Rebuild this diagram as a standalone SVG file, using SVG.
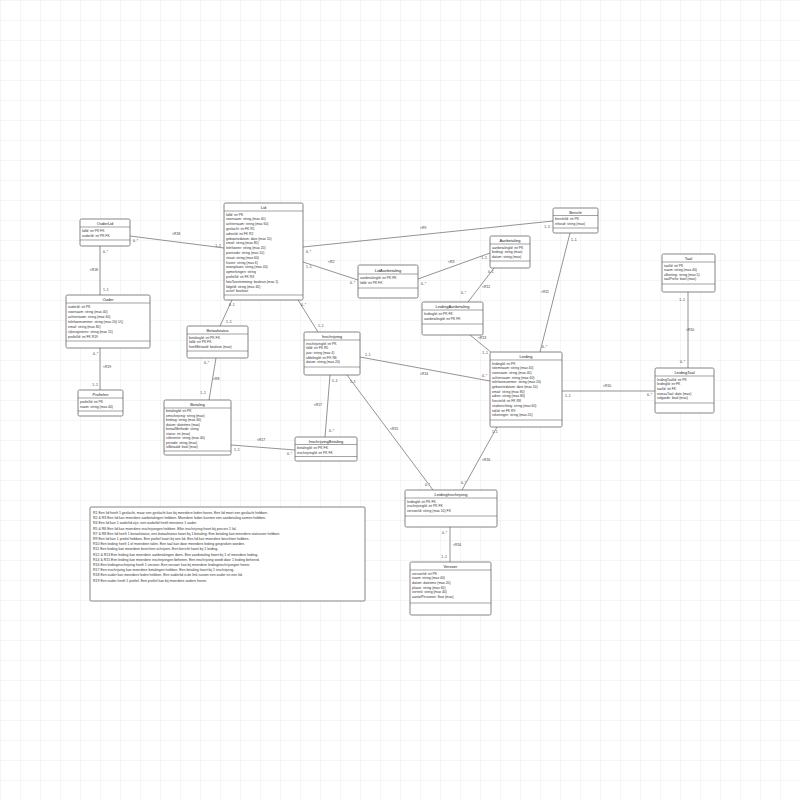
<svg xmlns="http://www.w3.org/2000/svg" width="800" height="800" viewBox="0 0 800 800">
<defs>
<pattern id="grid" width="20" height="20" patternUnits="userSpaceOnUse"><path d="M20 0H0V20" fill="none" stroke="#e6e6e6" stroke-width="0.8"/></pattern>
<style>
.box{fill:#fff;stroke:#666;stroke-width:0.8}
.div{stroke:#666;stroke-width:0.6}
.t{font-family:"Liberation Sans",Arial,sans-serif;font-size:4px;fill:#222;text-anchor:middle}
.a{font-family:"Liberation Sans",Arial,sans-serif;font-size:3.4px;fill:#333}
.c{stroke:#666;stroke-width:0.7;fill:none}
.l{font-family:"Liberation Sans",Arial,sans-serif;font-size:3.4px;fill:#333}
.e{text-anchor:end}
.g{font-family:"Liberation Sans",Arial,sans-serif;font-size:3.5px;fill:#333}
</style>
</defs>
<rect width="800" height="800" fill="#fff"/>
<rect width="800" height="800" fill="url(#grid)"/>

<g id="connectors">
<line class="c" x1="130" y1="236" x2="224" y2="248"/>
<text class="l" x="133" y="242">0..*</text><text class="l" x="172" y="235">&lt;R18</text><text class="l e" x="221" y="247">1..1</text>
<line class="c" x1="100" y1="246" x2="100" y2="295"/>
<text class="l" x="103" y="253">0..*</text><text class="l e" x="98" y="271">&lt;R18</text><text class="l" x="103" y="291">1..1</text>
<line class="c" x1="100" y1="348" x2="100" y2="390"/>
<text class="l e" x="98" y="355">0..*</text><text class="l" x="103" y="368">&lt;R19</text><text class="l e" x="98" y="386">1..1</text>
<line class="c" x1="303" y1="247" x2="553" y2="221"/>
<text class="l" x="306" y="253">0..*</text><text class="l" x="420" y="229">&lt;R9</text><text class="l e" x="550" y="228">1..1</text>
<line class="c" x1="303" y1="262" x2="358" y2="280"/>
<text class="l" x="306" y="268">1..1</text><text class="l" x="328" y="263">&lt;R2</text><text class="l e" x="355" y="284">0..*</text>
<line class="c" x1="418" y1="279" x2="490" y2="253"/>
<text class="l" x="421" y="285">0..*</text><text class="l" x="448" y="263">&lt;R3</text><text class="l e" x="487" y="259">1..1</text>
<line class="c" x1="494" y1="268" x2="468" y2="302"/>
<text class="l" x="488" y="273">0..1</text><text class="l" x="482" y="288">&lt;R12</text><text class="l e" x="466" y="294">0..*</text>
<line class="c" x1="470" y1="335" x2="492" y2="353"/>
<text class="l" x="478" y="339">&lt;R13</text><text class="l e" x="488" y="354">1..1</text>
<line class="c" x1="570" y1="233" x2="540" y2="352"/>
<text class="l" x="571" y="241">1..1</text><text class="l e" x="549" y="293">&lt;R11</text><text class="l" x="542" y="348">0..*</text>
<line class="c" x1="562" y1="391" x2="655" y2="391"/>
<text class="l" x="565" y="397">1..1</text><text class="l" x="603" y="387">&lt;R10</text><text class="l e" x="652" y="396">0..*</text>
<line class="c" x1="688" y1="292" x2="688" y2="368"/>
<text class="l e" x="685" y="301">1..1</text><text class="l" x="686" y="331">&lt;R10</text><text class="l e" x="685" y="363">0..*</text>
<line class="c" x1="298" y1="300" x2="318" y2="332"/>
<text class="l" x="301" y="306">0..*</text><text class="l" x="318" y="327">1..1</text>
<line class="c" x1="232" y1="300" x2="220" y2="326"/>
<text class="l" x="229" y="306">0..1</text><text class="l" x="226" y="323">1..1</text>
<line class="c" x1="216" y1="358" x2="209" y2="400"/>
<text class="l e" x="209" y="364">0..*</text><text class="l" x="213" y="380">&lt;R8</text><text class="l e" x="206" y="394">1..1</text>
<line class="c" x1="231" y1="445" x2="295" y2="450"/>
<text class="l" x="234" y="451">1..1</text><text class="l" x="257" y="441">&lt;R17</text><text class="l e" x="292" y="455">0..*</text>
<line class="c" x1="330" y1="375" x2="325" y2="437"/>
<text class="l" x="332" y="382">1..1</text><text class="l e" x="322" y="406">&lt;R17</text><text class="l" x="329" y="432">0..*</text>
<line class="c" x1="360" y1="357" x2="490" y2="381"/>
<text class="l" x="365" y="356">1..1</text><text class="l" x="420" y="375">&lt;R14</text><text class="l e" x="487" y="377">0..*</text>
<line class="c" x1="347" y1="375" x2="433" y2="490"/>
<text class="l" x="350" y="383">1..1</text><text class="l" x="390" y="430">&lt;R15</text><text class="l e" x="430" y="486">0..*</text>
<line class="c" x1="497" y1="427" x2="462" y2="490"/>
<text class="l" x="492" y="433">1..1</text><text class="l" x="482" y="461">&lt;R16</text><text class="l e" x="466" y="484">0..*</text>
<line class="c" x1="450" y1="527" x2="450" y2="562"/>
<text class="l e" x="447" y="534">0..*</text><text class="l" x="453" y="546">&lt;R16</text><text class="l e" x="447" y="558">1..1</text>
</g>

<g id="ouderlid">
<rect class="box" x="80" y="219" width="50" height="27" rx="1.5"/>
<line class="div" x1="80" y1="227" x2="130" y2="227"/><line class="div" x1="80" y1="240" x2="130" y2="240"/>
<text class="t" x="105" y="225">OuderLid</text>
<text class="a"><tspan x="82" y="232">lidId: int PK FK</tspan><tspan x="82" y="237">ouderId: int PK FK</tspan></text>
</g>

<g id="ouder">
<rect class="box" x="66" y="295" width="84" height="53" rx="1.5"/>
<line class="div" x1="66" y1="303" x2="150" y2="303"/><line class="div" x1="66" y1="341" x2="150" y2="341"/>
<text class="t" x="108" y="301">Ouder</text>
<text class="a"><tspan x="68" y="308">ouderId: int PK</tspan><tspan x="68" y="313">voornaam: string (max 40)</tspan><tspan x="68" y="318">achternaam: string (max 60)</tspan><tspan x="68" y="323">telefoonnummer: string (max 20) UQ</tspan><tspan x="68" y="328">email: string (max 80)</tspan><tspan x="68" y="333">rijksregisternr: string (max 15)</tspan><tspan x="68" y="338">profielId: int FK R19</tspan></text>
</g>

<g id="profielen">
<rect class="box" x="78" y="390" width="45" height="26" rx="1.5"/>
<line class="div" x1="78" y1="398" x2="123" y2="398"/><line class="div" x1="78" y1="411" x2="123" y2="411"/>
<text class="t" x="100.5" y="396">Profielen</text>
<text class="a"><tspan x="80" y="403">profielId: int PK</tspan><tspan x="80" y="408">naam: string (max 40)</tspan></text>
</g>

<g id="lid">
<rect class="box" x="224" y="203" width="79" height="97" rx="1.5"/>
<line class="div" x1="224" y1="211" x2="303" y2="211"/><line class="div" x1="224" y1="295" x2="303" y2="295"/>
<text class="t" x="263.5" y="209">Lid</text>
<text class="a"><tspan x="226" y="215.5">lidId: int PK</tspan><tspan x="226" dy="4.8">voornaam: string (max 40)</tspan><tspan x="226" dy="4.8">achternaam: string (max 60)</tspan><tspan x="226" dy="4.8">geslacht: int FK R1</tspan><tspan x="226" dy="4.8">adresId: int FK R2</tspan><tspan x="226" dy="4.8">geboortedatum: date (max 10)</tspan><tspan x="226" dy="4.8">email: string (max 80)</tspan><tspan x="226" dy="4.8">telefoonnr: string (max 20)</tspan><tspan x="226" dy="4.8">postcode: string (max 10)</tspan><tspan x="226" dy="4.8">straat: string (max 60)</tspan><tspan x="226" dy="4.8">huisnr: string (max 6)</tspan><tspan x="226" dy="4.8">woonplaats: string (max 40)</tspan><tspan x="226" dy="4.8">opmerkingen: string</tspan><tspan x="226" dy="4.8">profielId: int FK R3</tspan><tspan x="226" dy="4.8">fotoToestemming: boolean (max 1)</tspan><tspan x="226" dy="4.8">lidgeld: string (max 40)</tspan><tspan x="226" dy="4.8">actief: boolean</tspan></text>
</g>

<g id="bericht">
<rect class="box" x="553" y="208" width="45" height="25" rx="1.5"/>
<line class="div" x1="553" y1="215.5" x2="598" y2="215.5"/><line class="div" x1="553" y1="228" x2="598" y2="228"/>
<text class="t" x="575.5" y="213.5">Bericht</text>
<text class="a"><tspan x="555" y="220">berichtId: int PK</tspan><tspan x="555" y="225">inhoud: string (max)</tspan></text>
</g>

<g id="aanbetaling">
<rect class="box" x="490" y="236" width="40" height="32" rx="1.5"/>
<line class="div" x1="490" y1="244" x2="530" y2="244"/><line class="div" x1="490" y1="261" x2="530" y2="261"/>
<text class="t" x="510" y="242">Aanbetaling</text>
<text class="a"><tspan x="492" y="248.5">aanbetalingId: int PK</tspan><tspan x="492" y="253">bedrag: string (max)</tspan><tspan x="492" y="257.5">datum: string (max)</tspan></text>
</g>

<g id="lidaanbetaling">
<rect class="box" x="358" y="265" width="60" height="33" rx="1.5"/>
<line class="div" x1="358" y1="274" x2="418" y2="274"/><line class="div" x1="358" y1="288" x2="418" y2="288"/>
<text class="t" x="388" y="271.5">LidAanbetaling</text>
<text class="a"><tspan x="360" y="279">aanbetalingId: int PK FK</tspan><tspan x="360" y="284">lidId: int PK FK</tspan></text>
</g>

<g id="leidingaanbetaling">
<rect class="box" x="422" y="302" width="61" height="33" rx="1.5"/>
<line class="div" x1="422" y1="310" x2="483" y2="310"/><line class="div" x1="422" y1="324" x2="483" y2="324"/>
<text class="t" x="452.5" y="308">LeidingAanbetaling</text>
<text class="a"><tspan x="424" y="315">leidingId: int PK FK</tspan><tspan x="424" y="320">aanbetalingId: int PK FK</tspan></text>
</g>

<g id="taal">
<rect class="box" x="662" y="254" width="53" height="38" rx="1.5"/>
<line class="div" x1="662" y1="262" x2="715" y2="262"/><line class="div" x1="662" y1="284" x2="715" y2="284"/>
<text class="t" x="688.5" y="260">Taal</text>
<text class="a"><tspan x="664" y="266.5">taalId: int PK</tspan><tspan x="664" y="271">naam: string (max 40)</tspan><tspan x="664" y="275.5">afkorting: string (max 5)</tspan><tspan x="664" y="280">taalPrefix: bool (max)</tspan></text>
</g>

<g id="leidingtaal">
<rect class="box" x="655" y="368" width="59" height="45" rx="1.5"/>
<line class="div" x1="655" y1="376" x2="714" y2="376"/><line class="div" x1="655" y1="403" x2="714" y2="403"/>
<text class="t" x="684.5" y="374">LeidingTaal</text>
<text class="a"><tspan x="657" y="380.5">leidingTaalId: int PK</tspan><tspan x="657" dy="4.7">leidingId: int FK</tspan><tspan x="657" dy="4.7">taalId: int FK</tspan><tspan x="657" dy="4.7">niveauTaal: date (max)</tspan><tspan x="657" dy="4.7">volgorde: bool (max)</tspan></text>
</g>

<g id="inschrijving">
<rect class="box" x="304" y="332" width="56" height="43" rx="1.5"/>
<line class="div" x1="304" y1="340" x2="360" y2="340"/><line class="div" x1="304" y1="367" x2="360" y2="367"/>
<text class="t" x="332" y="338">Inschrijving</text>
<text class="a"><tspan x="306" y="344.5">inschrijvingId: int PK</tspan><tspan x="306" dy="4.7">lidId: int FK R5</tspan><tspan x="306" dy="4.7">jaar: string (max 4)</tspan><tspan x="306" dy="4.7">afdelingId: int FK R6</tspan><tspan x="306" dy="4.7">datum: string (max 20)</tspan></text>
</g>

<g id="leiding">
<rect class="box" x="490" y="352" width="72" height="75" rx="1.5"/>
<line class="div" x1="490" y1="360" x2="562" y2="360"/><line class="div" x1="490" y1="420" x2="562" y2="420"/>
<text class="t" x="526" y="358">Leiding</text>
<text class="a"><tspan x="492" y="364.5">leidingId: int PK</tspan><tspan x="492" dy="4.7">totemnaam: string (max 40)</tspan><tspan x="492" dy="4.7">voornaam: string (max 40)</tspan><tspan x="492" dy="4.7">achternaam: string (max 60)</tspan><tspan x="492" dy="4.7">telefoonnummer: string (max 20)</tspan><tspan x="492" dy="4.7">geboortedatum: date (max 10)</tspan><tspan x="492" dy="4.7">email: string (max 80)</tspan><tspan x="492" dy="4.7">adres: string (max 80)</tspan><tspan x="492" dy="4.7">functieId: int FK R8</tspan><tspan x="492" dy="4.7">studierichting: string (max 60)</tspan><tspan x="492" dy="4.7">takId: int FK R9</tspan><tspan x="492" dy="4.7">rekeningnr: string (max 20)</tspan></text>
</g>

<g id="betaalstatus">
<rect class="box" x="187" y="326" width="61" height="32" rx="1.5"/>
<line class="div" x1="187" y1="334" x2="248" y2="334"/><line class="div" x1="187" y1="351" x2="248" y2="351"/>
<text class="t" x="217.5" y="332">Betaalstatus</text>
<text class="a"><tspan x="189" y="338.5">betalingId: int PK FK</tspan><tspan x="189" dy="4.7">lidId: int PK FK</tspan><tspan x="189" dy="4.7">heeftBetaald: boolean (max)</tspan></text>
</g>

<g id="betaling">
<rect class="box" x="164" y="400" width="67" height="55" rx="1.5"/>
<line class="div" x1="164" y1="408" x2="231" y2="408"/><line class="div" x1="164" y1="451" x2="231" y2="451"/>
<text class="t" x="197.5" y="406">Betaling</text>
<text class="a"><tspan x="166" y="412">betalingId: int PK</tspan><tspan x="166" dy="4.5">omschrijving: string (max)</tspan><tspan x="166" dy="4.5">bedrag: string (max 40)</tspan><tspan x="166" dy="4.5">datum: datetime (max)</tspan><tspan x="166" dy="4.5">betaalMethode: string</tspan><tspan x="166" dy="4.5">status: int (max)</tspan><tspan x="166" dy="4.5">referentie: string (max 40)</tspan><tspan x="166" dy="4.5">periode: string (max)</tspan><tspan x="166" dy="4.5">isBetaald: bool (max)</tspan></text>
</g>

<g id="inschrijvingbetaling">
<rect class="box" x="295" y="437" width="62" height="24" rx="1.5"/>
<line class="div" x1="295" y1="444.5" x2="357" y2="444.5"/><line class="div" x1="295" y1="456.5" x2="357" y2="456.5"/>
<text class="t" x="326" y="442.5">InschrijvingBetaling</text>
<text class="a"><tspan x="297" y="449">betalingId: int PK FK</tspan><tspan x="297" y="453.5">inschrijvingId: int PK FK</tspan></text>
</g>

<g id="leidinginschrijving">
<rect class="box" x="405" y="490" width="92" height="37" rx="1.5"/>
<line class="div" x1="405" y1="498" x2="497" y2="498"/><line class="div" x1="405" y1="516" x2="497" y2="516"/>
<text class="t" x="451" y="496">LeidingInschrijving</text>
<text class="a"><tspan x="407" y="502.5">leidingId: int PK FK</tspan><tspan x="407" dy="4.7">inschrijvingId: int PK FK</tspan><tspan x="407" dy="4.7">vervoerId: string (max 10) FK</tspan></text>
</g>

<g id="vervoer">
<rect class="box" x="410" y="562" width="81" height="53" rx="1.5"/>
<line class="div" x1="410" y1="570" x2="491" y2="570"/><line class="div" x1="410" y1="603" x2="491" y2="603"/>
<text class="t" x="450.5" y="568">Vervoer</text>
<text class="a"><tspan x="412" y="574.5">vervoerId: int PK</tspan><tspan x="412" dy="4.7">naam: string (max 40)</tspan><tspan x="412" dy="4.7">datum: datetime (max 20)</tspan><tspan x="412" dy="4.7">plaats: string (max 60)</tspan><tspan x="412" dy="4.7">vertrek: string (max 40)</tspan><tspan x="412" dy="4.7">aantalPersonen: float (max)</tspan></text>
</g>

<g id="legend">
<rect class="box" x="90" y="507" width="275" height="94" rx="1"/>
<text class="g"><tspan x="93" y="514">R1 Een lid heeft 1 geslacht, maar een geslacht kan bij meerdere leden horen. Een lid moet een geslacht hebben.</tspan><tspan x="93" dy="5.2">R2 &amp; R3 Een lid kan meerdere aanbetalingen hebben. Meerdere leden kunnen een aanbetaling samen hebben.</tspan><tspan x="93" dy="5.2">R4 Een lid kan 1 ouderlid zijn, een ouderlid heeft minstens 1 ouder.</tspan><tspan x="93" dy="5.2">R5 &amp; R6 Een lid kan meerdere inschrijvingen hebben. Elke inschrijving hoort bij precies 1 lid.</tspan><tspan x="93" dy="5.2">R7 &amp; R8 Een lid heeft 1 betaalstatus, een betaalstatus hoort bij 1 betaling. Een betaling kan meerdere statussen hebben.</tspan><tspan x="93" dy="5.2">R9 Een lid kan 1 profiel hebben. Een profiel hoort bij een lid. Een lid kan meerdere berichten hebben.</tspan><tspan x="93" dy="5.2">R10 Een leiding heeft 1 of meerdere talen. Een taal kan door meerdere leiding gesproken worden.</tspan><tspan x="93" dy="5.2">R11 Een leiding kan meerdere berichten schrijven. Een bericht hoort bij 1 leiding.</tspan><tspan x="93" dy="5.2">R12 &amp; R13 Een leiding kan meerdere aanbetalingen doen. Een aanbetaling hoort bij 1 of meerdere leiding.</tspan><tspan x="93" dy="5.2">R14 &amp; R15 Een leiding kan meerdere inschrijvingen beheren. Een inschrijving wordt door 1 leiding beheerd.</tspan><tspan x="93" dy="5.2">R16 Een leidinginschrijving heeft 1 vervoer. Een vervoer kan bij meerdere leidinginschrijvingen horen.</tspan><tspan x="93" dy="5.2">R17 Een inschrijving kan meerdere betalingen hebben. Een betaling hoort bij 1 inschrijving.</tspan><tspan x="93" dy="5.2">R18 Een ouder kan meerdere leden hebben. Een ouderlid is de link tussen een ouder en een lid.</tspan><tspan x="93" dy="5.2">R19 Een ouder heeft 1 profiel. Een profiel kan bij meerdere ouders horen.</tspan></text>
</g>
</svg>
